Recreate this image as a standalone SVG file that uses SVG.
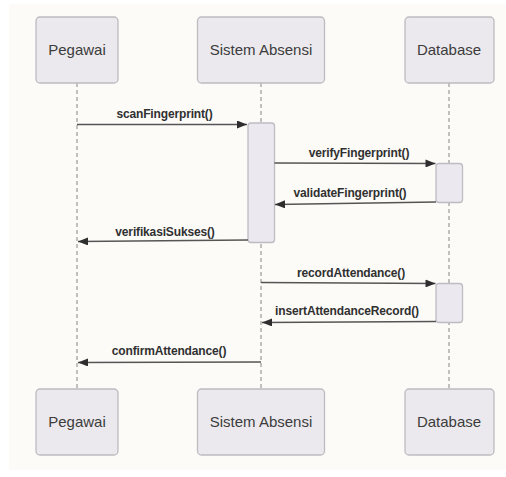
<svg xmlns="http://www.w3.org/2000/svg" width="506" height="477" viewBox="0 0 506 477">
  <defs>
    <marker id="arrow" viewBox="0 0 10 8" refX="10" refY="4" markerWidth="10" markerHeight="8" markerUnits="userSpaceOnUse" orient="auto">
      <path d="M0,0 L10,4 L0,8 Z" fill="#2e2e2e"/>
    </marker>
    <style>
      .actor { fill: #ebe9ed; stroke: #bcbcc0; stroke-width: 1.3; }
      .act { fill: #ebe9ef; stroke: #bcbcc2; stroke-width: 1.3; }
      .life { stroke: #a8a8a8; stroke-width: 1.4; stroke-dasharray: 4 3; fill: none; }
      .msg { stroke: #555; stroke-width: 1.3; fill: none; marker-end: url(#arrow); }
      .name { font-family: "Liberation Sans", Arial, sans-serif; font-size: 15px; fill: #3c3c3c; text-anchor: middle; }
      .lbl { font-family: "Liberation Sans", Arial, sans-serif; font-size: 12px; font-weight: bold; fill: #303030; text-anchor: middle; letter-spacing: -0.15px; }
    </style>
  </defs>

  <rect x="0" y="0" width="506" height="477" fill="#ffffff"/>
  <rect x="9" y="4" width="497" height="466" fill="#fcfbf8"/>

  <!-- lifelines -->
  <g id="lifelines">
    <line class="life" x1="77" y1="83" x2="77" y2="389"/>
    <line class="life" x1="261" y1="83" x2="261" y2="389"/>
    <line class="life" x1="449" y1="83" x2="449" y2="389"/>
  </g>

  <!-- participants, top -->
  <g id="pegawai-top">
    <rect class="actor" x="36" y="17" width="82" height="66" rx="4"/>
    <text class="name" x="77" y="55">Pegawai</text>
  </g>
  <g id="sistem-top">
    <rect class="actor" x="197.5" y="17" width="127" height="66" rx="4"/>
    <text class="name" x="261" y="55">Sistem Absensi</text>
  </g>
  <g id="database-top">
    <rect class="actor" x="405" y="17" width="89" height="66" rx="4"/>
    <text class="name" x="449" y="55">Database</text>
  </g>

  <!-- participants, bottom -->
  <g id="pegawai-bottom">
    <rect class="actor" x="36" y="389" width="82" height="66" rx="4"/>
    <text class="name" x="77" y="427">Pegawai</text>
  </g>
  <g id="sistem-bottom">
    <rect class="actor" x="197.5" y="389" width="127" height="66" rx="4"/>
    <text class="name" x="261" y="427">Sistem Absensi</text>
  </g>
  <g id="database-bottom">
    <rect class="actor" x="405" y="389" width="89" height="66" rx="4"/>
    <text class="name" x="449" y="427">Database</text>
  </g>

  <!-- activation bars -->
  <g id="sistem-activation">
    <rect class="act" x="248" y="123" width="26.5" height="119.5" rx="3"/>
  </g>
  <g id="database-activation-1">
    <rect class="act" x="436" y="163.5" width="26.5" height="39" rx="3"/>
  </g>
  <g id="database-activation-2">
    <rect class="act" x="436" y="283.5" width="26.5" height="39" rx="3"/>
  </g>

  <!-- messages -->
  <g id="connectors">
    <line class="msg" x1="77" y1="124.5" x2="247" y2="124.5"/>
    <text class="lbl" x="164.5" y="117.5">scanFingerprint()</text>

    <line class="msg" x1="274.5" y1="163" x2="435.5" y2="163.5"/>
    <text class="lbl" x="359" y="156.5">verifyFingerprint()</text>

    <line class="msg" x1="436" y1="202" x2="275" y2="204.5"/>
    <text class="lbl" x="350" y="196.5">validateFingerprint()</text>

    <line class="msg" x1="248" y1="240" x2="78" y2="241.5"/>
    <text class="lbl" x="165" y="235.5">verifikasiSukses()</text>

    <line class="msg" x1="261" y1="282.5" x2="435.5" y2="283.5"/>
    <text class="lbl" x="351" y="276.5">recordAttendance()</text>

    <line class="msg" x1="436" y1="321.5" x2="262" y2="322.5"/>
    <text class="lbl" x="347" y="315">insertAttendanceRecord()</text>

    <line class="msg" x1="261" y1="362" x2="78" y2="362.5"/>
    <text class="lbl" x="169" y="354.5">confirmAttendance()</text>
  </g>
</svg>
